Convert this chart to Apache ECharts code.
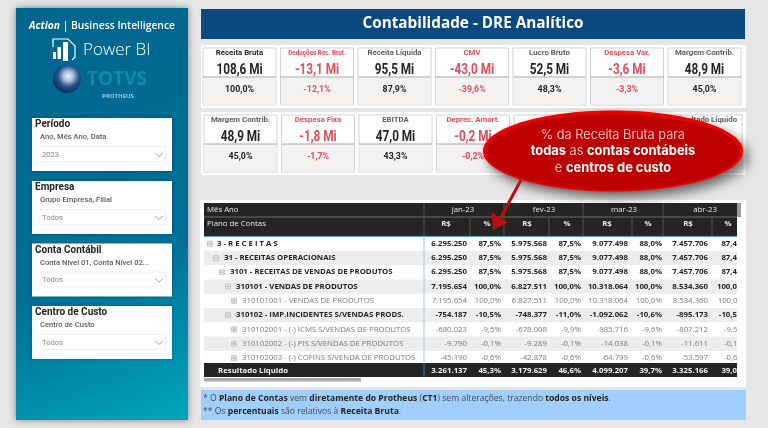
<!DOCTYPE html>
<html>
<head>
<meta charset="UTF-8">
<title>Contabilidade - DRE Analítico</title>
<style>
html,body{margin:0;padding:0;background:#e6e6e6}
#dre{width:768px;height:428px;filter:blur(0.4px)}
</style>
</head>
<body>
<div id="dre"></div>
<script src="https://cdn.jsdelivr.net/npm/echarts@6/dist/echarts.min.js"></script>
<script>
// textos
var tituloPagina = 'Contabilidade - DRE Analítico';
var slicerTitulos = ['Período', 'Empresa', 'Conta Contábil', 'Centro de Custo'];
var slicerCampos = ['Ano, Mês Ano, Data', 'Grupo Empresa, Filial', 'Conta Nível 01, Conta Nível 02...', 'Centro de Custo'];
var slicerValores = ['2023', 'Todos', 'Todos', 'Todos'];

// cartoes (os que o balao esconde ficam vazios)
var kpi1Titulos = ['Receita Bruta', 'Deduções Rec. Brut.', 'Receita Líquida', 'CMV', 'Lucro Bruto', 'Despesa Var.', 'Margem Contrib.'];
var kpi1Valores = ['108,6 Mi', '-13,1 Mi', '95,5 Mi', '-43,0 Mi', '52,5 Mi', '-3,6 Mi', '48,9 Mi'];
var kpi1Pct = ['100,0%', '-12,1%', '87,9%', '-39,6%', '48,3%', '-3,3%', '45,0%'];
var kpi2Titulos = ['Margem Contrib.', 'Despesa Fixa', 'EBITDA', 'Deprec. Amort.', '', '', 'Resultado Líquido'];
var kpi2Valores = ['48,9 Mi', '-1,8 Mi', '47,0 Mi', '-0,2 Mi', '', '', ''];
var kpi2Pct = ['45,0%', '-1,7%', '43,3%', '-0,2%', '', '', ''];

// tabela
var meses = ['jan-23', 'fev-23', 'mar-23', 'abr-23'];
var contas = [
	'3 - R E C E I T A S',
	'31 - RECEITAS OPERACIONAIS',
	'3101 - RECEITAS DE VENDAS DE PRODUTOS',
	'310101 - VENDAS DE PRODUTOS',
	'310101001 - VENDAS DE PRODUTOS',
	'310102 - IMP.INCIDENTES S/VENDAS PRODS.',
	'310102001 - (-) ICMS S/VENDAS DE PRODUTOS',
	'310102002 - (-) PIS S/VENDAS DE PRODUTOS',
	'310102003 - (-) COFINS S/VENDA DE PRODUTOS'
];
var contaNivel = [0, 1, 2, 3, 4, 3, 4, 4, 4];
var totalLabel = 'Resultado Líquido';
var janValor = ['6.295.250', '6.295.250', '6.295.250', '7.195.654', '7.195.654', '-754.187', '-680.023', '-9.790', '-45.190', '3.261.137'];
var janPct = ['87,5%', '87,5%', '87,5%', '100,0%', '100,0%', '-10,5%', '-9,5%', '-0,1%', '-0,6%', '45,3%'];
var fevValor = ['5.975.568', '5.975.568', '5.975.568', '6.827.511', '6.827.511', '-748.377', '-678.008', '-9.289', '-42.878', '3.179.629'];
var fevPct = ['87,5%', '87,5%', '87,5%', '100,0%', '100,0%', '-11,0%', '-9,9%', '-0,1%', '-0,6%', '46,6%'];
var marValor = ['9.077.498', '9.077.498', '9.077.498', '10.318.064', '10.318.064', '-1.092.062', '-985.716', '-14.038', '-64.799', '4.099.207'];
var marPct = ['88,0%', '88,0%', '88,0%', '100,0%', '100,0%', '-10,6%', '-9,6%', '-0,1%', '-0,6%', '39,7%'];
var abrValor = ['7.457.706', '7.457.706', '7.457.706', '8.534.360', '8.534.360', '-895.173', '-807.212', '-11.611', '-53.597', '3.325.166'];
var abrPct = ['87,4%', '87,4%', '87,4%', '100,0%', '100,0%', '-10,5%', '-9,5%', '-0,1%', '-0,6%', '39,0%'];

// notas e balao, ~ marca negrito
var notas = [
	'* O ~Plano de Contas~ vem ~diretamente do Protheus~ (~CT1~) sem alterações, trazendo ~todos os níveis~.',
	'** Os ~percentuais~ são relativos à ~Receita Bruta~.'
];
var balao = ['% da Receita Bruta para', '~todas~ as ~contas contábeis~', 'e ~centros de custo~'];

var els = [];
var SANS = '"Open Sans"', DIN = 'Roboto';
var VERMELHO = '#e4495c', ESCURO = '#252423', CINZA = '#605e5c';

function add(el) {
	el.z = els.length + 1;
	el.silent = true;
	els.push(el);
}
function box(x, y, w, h, fill, extra) {
	var style = { fill: fill };
	for (var k in extra) style[k] = extra[k];
	add({ type: 'rect', shape: { x: x, y: y, width: w, height: h }, style: style });
}
function txt(x, y, s, font, fill, align, sx) {
	add({ type: 'text', x: x, y: y, scaleX: sx || 1, style: { text: s, font: font, fill: fill, align: align || 'left', verticalAlign: 'middle' } });
}
function linha(x1, y1, x2, y2, cor, w) {
	add({ type: 'line', shape: { x1: x1, y1: y1, x2: x2, y2: y2 }, style: { stroke: cor, lineWidth: w || 1 } });
}
// texto com trechos em negrito
function rico(x, y, s, size, family, corN, corB, align, pesoN) {
	var partes = s.split('~'), out = '';
	partes.forEach(function (p, i) {
		if (p) out += '{' + (i % 2 ? 'b' : 'n') + '|' + p + '}';
	});
	add({
		type: 'text', x: x, y: y,
		style: {
			text: out, align: align || 'left', verticalAlign: 'middle',
			rich: {
				n: { fontFamily: family, fontSize: size, fontWeight: pesoN || 'normal', fill: corN, color: corN },
				b: { fontFamily: family, fontSize: size, fontWeight: 'bold', fill: corB, color: corB }
			}
		}
	});
}

// ---------- lateral
add({
	type: 'rect', shape: { x: 16, y: 8, width: 172, height: 412 },
	style: {
		fill: new echarts.graphic.LinearGradient(0, 0, 1, 1, [
			{ offset: 0, color: '#00668e' }, { offset: 0.62, color: '#006f97' }, { offset: 1, color: '#00a6be' }
		]),
		shadowBlur: 7, shadowColor: 'rgba(0,0,0,.45)'
	}
});
add({
	type: 'text', x: 102, y: 26,
	style: {
		text: '{i|Action}{n| | Business Intelligence}', align: 'center', verticalAlign: 'middle',
		rich: {
			i: { fontFamily: SANS, fontSize: 10.3, fontStyle: 'italic', fontWeight: 'bold', fill: '#fff', color: '#fff' },
			n: { fontFamily: SANS, fontSize: 10.3, fontWeight: 600, fill: '#fff', color: '#fff' }
		}
	}
});
// logo power bi
box(53, 52, 3, 7, '#fff');
box(57.5, 47, 3.5, 12, '#fff');
box(63, 42, 5, 19, '#fff');
add({ type: 'polyline', shape: { points: [[53, 47], [53, 39], [68, 39], [75, 46], [75, 57], [72, 60]] }, style: { stroke: '#fff', fill: null, lineWidth: 1.2 } });
txt(83, 50, 'Power BI', '300 17px ' + SANS, '#fff');
// logo totvs
add({
	type: 'circle', shape: { cx: 67, cy: 79, r: 14 },
	style: {
		fill: new echarts.graphic.RadialGradient(0.55, 0.4, 0.6, [
			{ offset: 0, color: '#eef4fa' }, { offset: 0.3, color: '#a9bfd8' }, { offset: 0.62, color: '#26548f' }, { offset: 1, color: '#0c2c5c' }
		])
	}
});
txt(87, 80, 'TOTVS', 'bold 19px ' + SANS, '#0a8cae');
txt(118, 96, 'PROTHEUS', 'bold 6px ' + SANS, '#8fcfe6', 'center');

// filtros
var slicerY = [118, 181, 243.5, 306];
slicerTitulos.forEach(function (t, i) {
	var y = slicerY[i];
	box(32, y, 140, 53, '#fff', { shadowBlur: 3, shadowColor: 'rgba(0,0,0,.3)' });
	txt(35, y + 6.5, t, 'bold 10px ' + DIN, ESCURO);
	txt(40, y + 19.5, slicerCampos[i], '500 7.6px ' + DIN, CINZA);
	box(38.5, y + 28.5, 127, 15, '#fff', { stroke: '#f0f0f0', lineWidth: 1 });
	txt(42, y + 37, slicerValores[i], '7.6px ' + DIN, '#8a8886');
	add({ type: 'polyline', shape: { points: [[155, y + 35], [159, y + 38.5], [163, y + 35]] }, style: { stroke: '#a19f9d', fill: null, lineWidth: 0.9 } });
});

// ---------- cabecalho
box(201, 9, 544, 30, '#0a4a80');
txt(473, 24, tituloPagina, 'bold 15.3px ' + SANS, '#fff', 'center');

// ---------- cartoes
function cartoes(painelY, painelH, cardX0, cardY, titulos, valores, pcts) {
	box(201, painelY, 545, painelH, '#fff');
	titulos.forEach(function (t, i) {
		var x = cardX0 + i * 77.5, cx = x + 36.5;
		var neg = valores[i].charAt(0) === '-' || /Dedu|CMV|Desp|Deprec/.test(t);
		box(x, cardY, 73, 57, '#fff', { stroke: '#d4d4d4', lineWidth: 1 });
		box(x + 0.5, cardY + 29.5, 72, 27, '#f3f2f1');
		linha(x, cardY + 29, x + 73, cardY + 29, '#a6a6a6', 1);
		var corT = neg ? VERMELHO : (i === 0 && painelY < 100 ? ESCURO : CINZA);
		var tam = t.length > 18 ? 6.3 : 7.8;
		if (t) txt(cx, cardY + 5.5, t, 'bold ' + tam + 'px ' + DIN, corT, 'center');
		if (valores[i]) txt(cx, cardY + 22, valores[i], 'bold 14px ' + DIN, neg ? VERMELHO : ESCURO, 'center', 0.84);
		if (pcts[i]) txt(cx, cardY + 42, pcts[i], 'bold 8.8px ' + DIN, neg ? VERMELHO : ESCURO, 'center');
	});
}
cartoes(45, 63, 203, 48, kpi1Titulos, kpi1Valores, kpi1Pct);
cartoes(112, 63, 204, 115, kpi2Titulos, kpi2Valores, kpi2Pct);

// ---------- tabela
var colunas = [
	{ v: janValor, p: janPct, rv: 467, rp: 501, cv: 446, cp: 487, cm: 463 },
	{ v: fevValor, p: fevPct, rv: 547, rp: 581, cv: 527, cp: 567, cm: 544 },
	{ v: marValor, p: marPct, rv: 628, rp: 662, cv: 607, cp: 648, cm: 624 },
	{ v: abrValor, p: abrPct, rv: 708, rp: 744, cv: 688, cp: 728, cm: 705 }
];
var rowH = 14.3, rowY0 = 236.5;

box(200, 200, 546, 187, '#fff');
contas.forEach(function (c, i) {
	var y = rowY0 + i * rowH, cy = y + rowH / 2, niv = contaNivel[i];
	var folha = niv === 4;
	if (i % 2 === 1) box(204, y, 533, rowH, '#ededed');
	var ix = 207.5 + niv * 6;
	box(ix, cy - 2.5, 5, 5, '#e4e4e4', { stroke: '#c8c8c8', lineWidth: 1 });
	linha(ix + 1, cy, ix + 4, cy, '#a8a8a8', 0.8);
	if (folha) linha(ix + 2.5, cy - 1.5, ix + 2.5, cy + 1.5, '#a8a8a8', 0.8);
	var font = (folha ? '' : 'bold ') + '7.8px ' + SANS;
	var cor = folha ? '#7a7a7a' : ESCURO;
	txt(ix + (niv === 0 ? 9.5 : 10.5), cy, c, font, cor);
	colunas.forEach(function (col) {
		txt(col.rv, cy, col.v[i], font, cor, 'right');
		txt(col.rp, cy, col.p[i], font, cor, 'right');
	});
});
// corta a coluna que transborda
box(737, 236, 9, 128, '#fff');

box(204, 203, 533, 33, ESCURO);
linha(204, 217, 737, 217, '#6b6a69', 1);
linha(204, 236.5, 737, 236.5, '#5aa5e8', 1);
txt(207, 210, 'Mês Ano', '7.8px ' + SANS, '#e8e8e8');
txt(207, 224, 'Plano de Contas', '7.8px ' + SANS, '#e8e8e8');
[424, 504, 583, 663].forEach(function (x) { linha(x, 203, x, 217, '#555', 1); });
[424, 470, 504, 549, 583, 632, 663, 712].forEach(function (x) { linha(x, 217, x, 236, '#555', 1); });
colunas.forEach(function (col, i) {
	txt(col.cm, 210, meses[i], '7.8px ' + SANS, '#e8e8e8', 'center');
	txt(col.cv, 224, 'R$', 'bold 7.8px ' + SANS, '#e8e8e8', 'center');
	txt(col.cp, 224, '%', 'bold 7.8px ' + SANS, '#e8e8e8', 'center');
});
box(737, 203, 4, 14, '#9a9a9a');
box(737, 217, 8, 19, '#fff');
linha(424, 236.5, 424, 363, '#9ccbf2', 1);

// total
box(204, 363, 533, 14, ESCURO);
txt(218, 370.5, totalLabel, 'bold 7.8px ' + SANS, '#f2f2f2');
linha(424, 363, 424, 377, '#3b79b8', 1);
colunas.forEach(function (col) {
	txt(col.rv, 370.5, col.v[9], 'bold 7.8px ' + SANS, '#f2f2f2', 'right');
	txt(col.rp, 370.5, col.p[9], 'bold 7.8px ' + SANS, '#f2f2f2', 'right');
});
box(737, 363, 9, 14, '#fff');
box(204, 378, 157, 3.5, '#a9a9a9', { r: 1.5 });

// ---------- notas
box(201, 390, 545, 30, '#a0cffd');
rico(203, 399, notas[0], 8.6, SANS, '#4a4a4a', ESCURO);
rico(203, 412, notas[1], 8.6, SANS, '#4a4a4a', ESCURO);

// ---------- balao
add({ type: 'ellipse', shape: { cx: 613, cy: 151, rx: 130, ry: 40.5 }, style: { fill: '#f80000', shadowBlur: 12, shadowOffsetX: 5, shadowOffsetY: 6, shadowColor: 'rgba(0,0,0,.55)' } });
add({ type: 'ellipse', shape: { cx: 613, cy: 152, rx: 126, ry: 37.5 }, style: { fill: '#bd0000', shadowBlur: 5, shadowColor: '#bd0000' } });
add({ type: 'line', shape: { x1: 521, y1: 180, x2: 501, y2: 217 }, style: { stroke: '#b81010', lineWidth: 3 } });
add({ type: 'polygon', shape: { points: [[493, 230], [491.5, 212.5], [508, 222.5]] }, style: { fill: '#b81010' } });
rico(613, 135, balao[0], 12.9, 'Inter', '#f7e3e3', '#fff', 'center', 300);
rico(613, 151.5, balao[1], 12.9, 'Inter', '#f7e3e3', '#fff', 'center', 300);
rico(613, 168, balao[2], 12.9, 'Inter', '#f7e3e3', '#fff', 'center', 300);

var chart = echarts.init(document.getElementById('dre'));
chart.setOption({ backgroundColor: '#e6e6e6', animation: false, graphic: { elements: els } });
</script>
</body>
</html>
